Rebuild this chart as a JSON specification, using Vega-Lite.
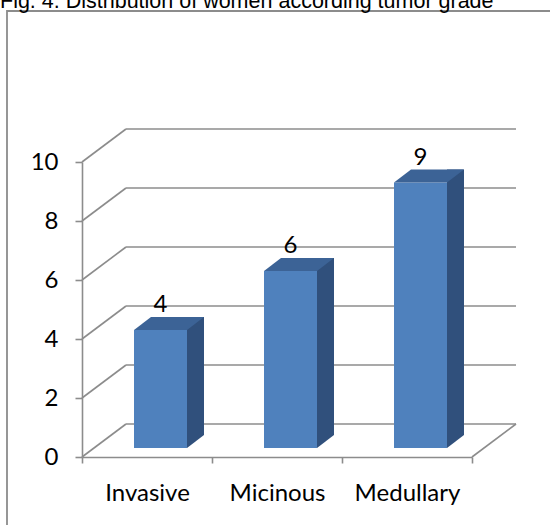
{
  "$schema": "https://vega.github.io/schema/vega-lite/v6.json",
  "autosize": {"type": "none"},
  "padding": {"left": 7, "top": 11, "right": -3, "bottom": -3},
  "width": 546,
  "height": 517,
  "background": "white",
  "config": {
    "view": {"stroke": "#8c8c8c", "strokeWidth": 1.8},
    "axis": {"grid": false, "title": null}
  },
  "title": {
    "text": "Fig. 4. Distribution of women according tumor grade",
    "anchor": "start",
    "frame": "group",
    "font": "Liberation Sans",
    "fontSize": 21.5,
    "fontWeight": "normal",
    "color": "#000000",
    "baseline": "alphabetic",
    "offset": 0,
    "dx": -7,
    "dy": 18
  },
  "datasets": {
    "grades": [
      {"type": "Invasive", "count": 4},
      {"type": "Micinous", "count": 6},
      {"type": "Medullary", "count": 9}
    ],
    "ticks": [{"v": 0}, {"v": 2}, {"v": 4}, {"v": 6}, {"v": 8}, {"v": 10}]
  },
  "resolve": {"scale": {"x": "shared", "y": "shared"}},
  "layer": [
    {
      "description": "back wall gridlines",
      "data": {"name": "ticks"},
      "mark": {"type": "rule", "color": "#8c8c8c", "strokeWidth": 1.6, "xOffset": 44, "x2Offset": 44, "yOffset": -33},
      "encoding": {
        "x": {"datum": "Invasive", "type": "nominal", "bandPosition": 0},
        "x2": {"datum": "Medullary", "bandPosition": 1},
        "y": {"field": "v", "type": "quantitative"}
      }
    },
    {
      "description": "side wall diagonals",
      "data": {"name": "ticks"},
      "mark": {"type": "rule", "color": "#8c8c8c", "strokeWidth": 1.6, "x2Offset": 44, "y2Offset": -33},
      "encoding": {
        "x": {"datum": "Invasive", "type": "nominal", "bandPosition": 0},
        "x2": {"datum": "Invasive", "bandPosition": 0},
        "y": {"field": "v", "type": "quantitative"},
        "y2": {"field": "v"}
      }
    },
    {
      "description": "floor right edge",
      "data": {"name": "ticks"},
      "transform": [{"filter": "datum.v == 0"}],
      "mark": {"type": "rule", "color": "#8c8c8c", "strokeWidth": 1.6, "x2Offset": 44, "y2Offset": -33},
      "encoding": {
        "x": {"datum": "Medullary", "type": "nominal", "bandPosition": 1},
        "x2": {"datum": "Medullary", "bandPosition": 1},
        "y": {"field": "v", "type": "quantitative"},
        "y2": {"field": "v"}
      }
    },
    {
      "description": "bar side faces",
      "data": {"name": "grades"},
      "mark": {"type": "bar", "color": "#30507c", "width": 17, "xOffset": 48.5, "yOffset": -22, "y2Offset": -22},
      "encoding": {
        "x": {
          "field": "type",
          "type": "nominal",
          "sort": null,
          "scale": {"type": "band", "domain": ["Invasive", "Micinous", "Medullary"], "range": [75, 465], "paddingInner": 0, "paddingOuter": 0},
          "axis": {
            "offset": -71,
            "tickBand": "extent",
            "tickSize": 6,
            "tickColor": "#8c8c8c",
            "tickWidth": 1.6,
            "domainColor": "#8c8c8c",
            "domainWidth": 1.6,
            "labelAngle": 0,
            "labelAlign": "center",
            "labelBaseline": "alphabetic",
            "labelFont": "Lato",
            "labelFontSize": 24,
            "labelColor": "#000000",
            "labelPadding": 37,
            "title": null
          }
        },
        "y": {
          "field": "count",
          "type": "quantitative",
          "scale": {"domain": [0, 10], "range": [446, 151], "nice": false, "zero": true},
          "axis": {
            "offset": -75,
            "values": [0, 2, 4, 6, 8, 10],
            "tickSize": 7,
            "tickColor": "#8c8c8c",
            "tickWidth": 1.6,
            "domainColor": "#8c8c8c",
            "domainWidth": 1.6,
            "labelFont": "Lato",
            "labelFontSize": 24,
            "labelColor": "#000000",
            "labelPadding": 17,
            "title": null
          }
        },
        "y2": {"datum": 0}
      }
    },
    {
      "description": "lower corner of the side faces",
      "data": {"name": "grades"},
      "mark": {"type": "point", "shape": "M40,-22L57,-22L40,-9Z", "size": 4, "filled": true, "opacity": 1, "color": "#30507c", "strokeWidth": 0},
      "encoding": {
        "x": {"field": "type", "type": "nominal"},
        "y": {"datum": 0, "type": "quantitative"}
      }
    },
    {
      "description": "bar front faces",
      "data": {"name": "grades"},
      "mark": {"type": "bar", "color": "#4f81bd", "width": 53, "xOffset": 13.5, "yOffset": -9, "y2Offset": -9},
      "encoding": {
        "x": {"field": "type", "type": "nominal"},
        "y": {"field": "count", "type": "quantitative"},
        "y2": {"datum": 0}
      }
    },
    {
      "description": "bar top faces",
      "data": {"name": "grades"},
      "mark": {"type": "point", "shape": "M-13,-9L40,-9L57,-22L4,-22Z", "size": 4, "filled": true, "opacity": 1, "color": "#3c6396", "strokeWidth": 0},
      "encoding": {
        "x": {"field": "type", "type": "nominal"},
        "y": {"field": "count", "type": "quantitative"}
      }
    },
    {
      "description": "value labels",
      "data": {"name": "grades"},
      "mark": {"type": "text", "font": "Lato", "fontSize": 24, "color": "#000000", "dx": 13.5, "dy": -27, "baseline": "alphabetic", "align": "center"},
      "encoding": {
        "x": {"field": "type", "type": "nominal"},
        "y": {"field": "count", "type": "quantitative"},
        "text": {"field": "count", "type": "quantitative"}
      }
    }
  ]
}
